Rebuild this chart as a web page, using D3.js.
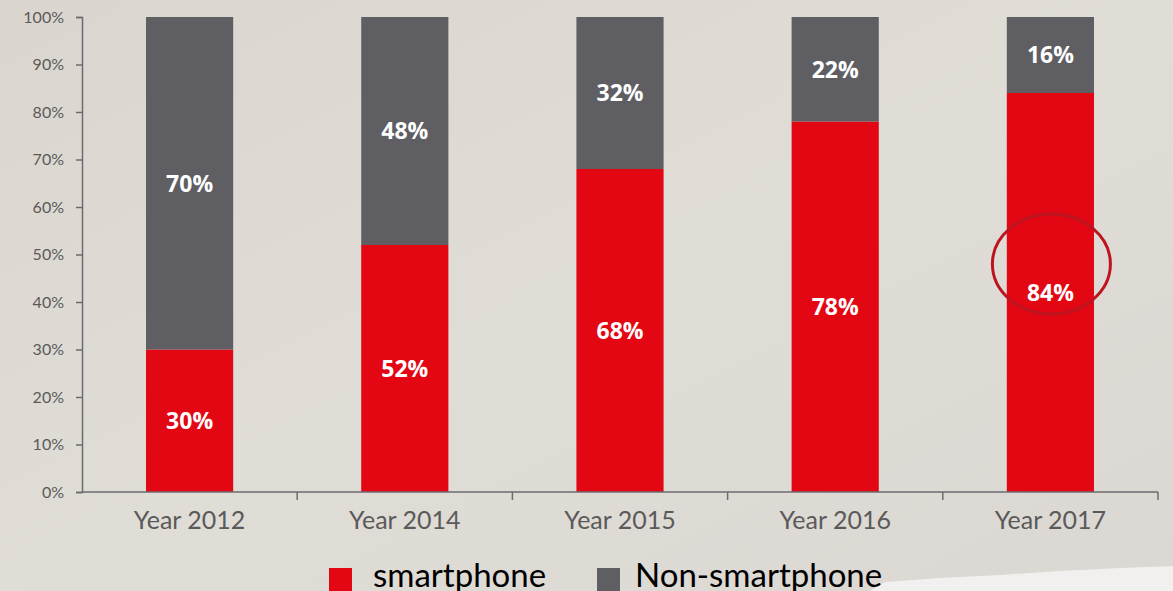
<!DOCTYPE html>
<html><head><meta charset="utf-8">
<script src="https://cdn.jsdelivr.net/npm/d3@7"></script>
<style>
html,body{margin:0;padding:0;overflow:hidden;}
svg{display:block;}
</style></head>
<body>
<svg id="chart" width="1173" height="591"></svg>
<script>
const categories = ["Year 2012","Year 2014","Year 2015","Year 2016","Year 2017"];
const smartphone = [30,52,68,78,84];
const nonSmartphone = [70,48,32,22,16];
const seriesNames = ["smartphone","Non-smartphone"];
const yTicks = [0,10,20,30,40,50,60,70,80,90,100];

const W=1173,H=591;
const svg=d3.select("#chart");
const defs=svg.append("defs");
const g1=defs.append("linearGradient").attr("id","bg").attr("x1","0").attr("y1","0").attr("x2","1").attr("y2","1");
g1.append("stop").attr("offset","0").attr("stop-color","#dad5cf");
g1.append("stop").attr("offset","0.5").attr("stop-color","#e0dcd6");
g1.append("stop").attr("offset","1").attr("stop-color","#dbd7d2");
svg.append("rect").attr("width",W).attr("height",H).attr("fill","url(#bg)");
// torn white paper edge at bottom right
svg.append("path").attr("d","M870,591 L885,582 L940,578 L1000,575 L1060,571 L1120,568 L1173,566 L1173,591 Z").attr("fill","#f1f0ee");

const x=d3.scaleBand().domain(categories).range([82,1158]).paddingInner(0.595).paddingOuter(0.2975);
const y=d3.scaleLinear().domain([0,100]).range([492,17]);
const red="#e30613", grey="#5e5e63", axisCol="#6b6b70", txt="#5a5a5a";

const stack=d3.stack().keys(seriesNames)(categories.map((c,i)=>({cat:c,smartphone:smartphone[i],"Non-smartphone":nonSmartphone[i]})));
const colors={"smartphone":red,"Non-smartphone":grey};

stack.forEach(s=>{
  const gg=svg.append("g");
  gg.selectAll("rect").data(s).join("rect")
    .attr("x",d=>x(d.data.cat)).attr("width",x.bandwidth())
    .attr("y",d=>y(d[1])).attr("height",d=>y(d[0])-y(d[1]))
    .attr("fill",colors[s.key]);
  gg.selectAll("text").data(s).join("text")
    .attr("x",d=>x(d.data.cat)+x.bandwidth()/2)
    .attr("y",d=>(y(d[0])+y(d[1]))/2)
    .attr("dy","0.36em").attr("text-anchor","middle")
    .attr("fill","#fff").attr("font-family","'Open Sans',sans-serif").attr("font-weight","bold").attr("font-size","23px")
    .text(d=>(d[1]-d[0])+"%");
});

// Y axis
const yAxis=svg.append("g").attr("transform","translate(82,0)")
  .call(d3.axisLeft(y).tickValues(yTicks).tickFormat(d=>d+"%").tickSize(6).tickPadding(12));
yAxis.select(".domain").attr("stroke",axisCol).attr("stroke-width",1.5);
yAxis.selectAll(".tick line").attr("stroke",axisCol).attr("stroke-width",1.5);
yAxis.selectAll(".tick text").attr("fill",txt).attr("font-family","Lato,sans-serif").attr("font-size","16px");

// X axis with boundary ticks
const xAxis=svg.append("g").attr("transform","translate(0,492)");
xAxis.append("line").attr("x1",82).attr("x2",1158).attr("stroke",axisCol).attr("stroke-width",1.5);
const step=x.step();
xAxis.selectAll("line.t").data(categories.map(c=>x(c)+x.bandwidth()/2+step/2)).join("line").attr("class","t")
  .attr("x1",d=>d).attr("x2",d=>d).attr("y1",0).attr("y2",8).attr("stroke",axisCol).attr("stroke-width",1.5);
xAxis.selectAll("text").data(categories).join("text")
  .attr("x",d=>x(d)+x.bandwidth()/2).attr("y",37)
  .attr("text-anchor","middle").attr("fill",txt).attr("font-family","Lato,sans-serif").attr("font-size","25px")
  .text(d=>d);

// highlight ellipse
svg.append("ellipse").attr("cx",x("Year 2017")+x.bandwidth()/2+1).attr("cy",y(48)).attr("rx",59).attr("ry",50)
  .attr("fill","none").attr("stroke","#bd1520").attr("stroke-width",3);

// legend
const leg=svg.append("g");
const legItems=[{n:seriesNames[0],c:red,x:329,tx:373},{n:seriesNames[1],c:grey,x:597,tx:635}];
legItems.forEach(l=>{
  leg.append("rect").attr("x",l.x).attr("y",568).attr("width",23).attr("height",23).attr("fill",l.c);
  leg.append("text").attr("x",l.tx).attr("y",587).attr("fill","#000").attr("font-family","Lato,sans-serif").attr("font-size","33px").text(l.n);
});
</script>
</body></html>
